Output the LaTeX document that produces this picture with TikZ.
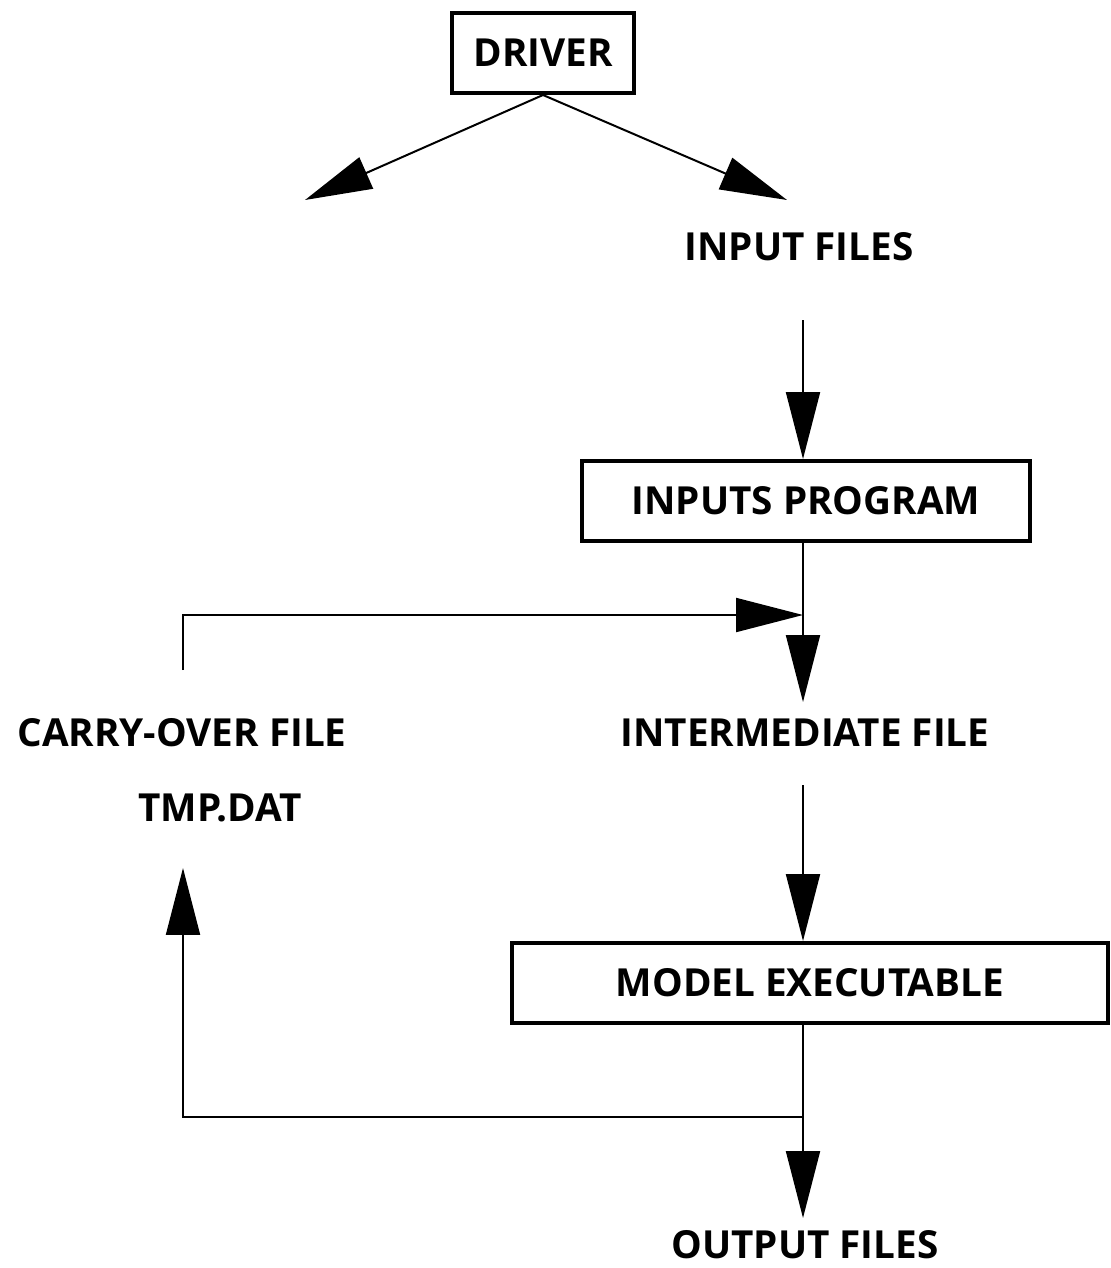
\documentclass[tikz,border=0pt]{standalone}
\usepackage{fontspec}
\setmainfont{Open Sans}
\usepackage{tikz}
\usetikzlibrary{arrows.meta}

\tikzset{
	box/.style={draw, line width=0.8mm, minimum height=1.6cm, inner sep=0pt},
	lbl/.style={inner sep=0pt, font=\fontsize{22}{25}\selectfont\bfseries},
	flow/.style={line width=0.4mm, -{Triangle[length=1.34cm, width=0.68cm]}},
	wire/.style={line width=0.4mm}
}

\begin{document}
\begin{tikzpicture}[x=0.02cm, y=-0.02cm]
		%%%%% START %%%%%
		\useasboundingbox (0, 0) rectangle (1111, 1268);
		
		\node[box, lbl, minimum width=3.64cm] (driver) at (543, 53) {DRIVER};
		\coordinate (leftend) at (305, 200);
		\coordinate (rightend) at (787, 200);
		\draw[flow] (driver.south) -- (leftend);
		\draw[flow] (driver.south) -- (rightend);
		
		\node[lbl] (infiles) at (799, 247) {INPUT FILES};
		\coordinate (intop) at (803, 320);
		
		\node[box, lbl, minimum width=8.96cm] (inprog) at (806, 501) {INPUTS PROGRAM};
		\draw[flow] (intop) -- (inprog.north -| intop);
		
		\node[lbl] (interm) at (805, 733) {INTERMEDIATE FILE};
		\node[lbl] (carry) at (182, 733) {CARRY-OVER FILE};
		\node[lbl] (tmpdat) at (220, 808) {TMP.DAT};
		
		\coordinate (join) at (803, 615);
		\coordinate (carrytop) at (183, 670);
		\draw[wire] (inprog.south -| join) -- (join);
		\draw[flow] (carrytop) |- (join);
		\draw[flow] (join) -- (803, 702);
		
		\node[box, lbl, minimum width=11.92cm] (model) at (810, 983) {MODEL EXECUTABLE};
		\draw[flow] (803, 785) -- (model.north -| join);
		
		\node[lbl] (outfiles) at (805, 1245) {OUTPUT FILES};
		\coordinate (split) at (803, 1117);
		\coordinate (tmpbot) at (183, 868);
		\draw[flow] (model.south -| split) -- (split) -| (tmpbot);
		\draw[flow] (split) -- (803, 1218);
		
		%%%%% END %%%%%
	\end{tikzpicture}
\end{document}
